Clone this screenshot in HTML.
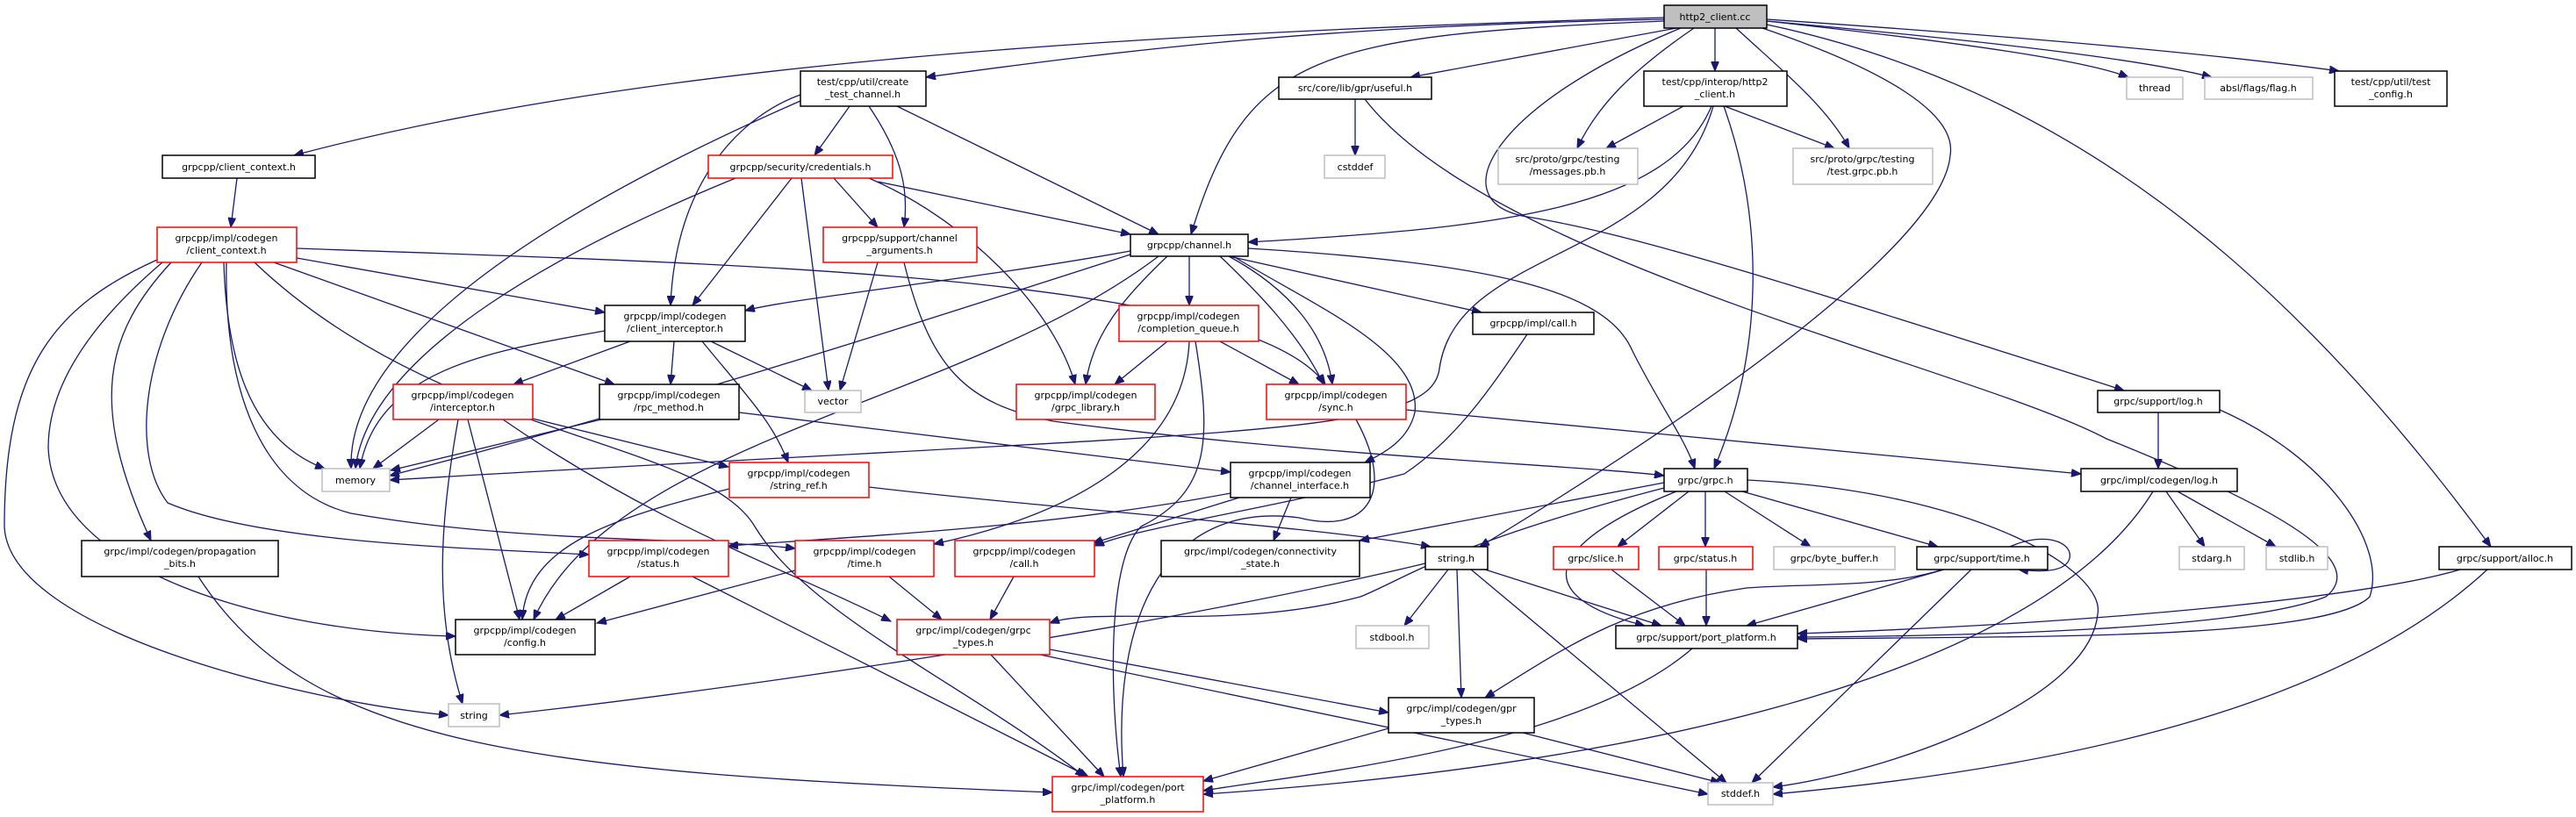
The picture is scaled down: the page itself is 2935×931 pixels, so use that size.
<!DOCTYPE html>
<html><head><meta charset="utf-8"><style>
html,body{margin:0;padding:0;background:#fff;}
svg{display:block;}
text{font-family:"DejaVu Sans","Liberation Sans",sans-serif;font-size:11px;fill:#000;text-anchor:middle;}
.e{fill:none;stroke:#191970;stroke-width:1.3;marker-end:url(#a);}
.b{fill:#fff;stroke:#000;stroke-width:1.5;}
.r{fill:#fff;stroke:#ff0000;stroke-width:1.5;}
.g{fill:#fff;stroke:#bfbfbf;stroke-width:1.5;}
</style></head><body>
<svg width="2935" height="931" viewBox="0 0 2935 931" xmlns="http://www.w3.org/2000/svg">
<defs><marker id="a" markerUnits="userSpaceOnUse" markerWidth="12" markerHeight="9" refX="11" refY="4.5" orient="auto"><path d="M0,0 L11,4.5 L0,9 z" fill="#191970" stroke="#191970"/></marker></defs>
<g>
<!-- edges from http2_client.cc -->
<path class="e" d="M1896,22 C1500,30 1300,55 1055,88"/>
<path class="e" d="M1896,20 C1200,40 700,80 335,177"/>
<path class="e" d="M1896,24 C1500,40 1420,60 1357,267"/>
<path class="e" d="M1910,32 L1607,88"/>
<path class="e" d="M1954,32 L1954,81"/>
<path class="e" d="M1930,32 C1860,80 1820,120 1797,169"/>
<path class="e" d="M1978,32 C2030,80 2080,120 2107,169"/>
<path class="e" d="M2005,31 C2150,80 2230,130 2222,177 C2215,260 2020,420 1686,623"/>
<path class="e" d="M2013,28 C2350,100 2600,300 2838,623"/>
<path class="e" d="M1915,32 C1700,120 1640,230 1740,247 C1850,265 2000,310 2420,445"/>
<path class="e" d="M2013,24 C2250,50 2380,70 2425,88"/>
<path class="e" d="M2013,24 C2300,50 2450,70 2520,88"/>
<path class="e" d="M2013,22 C2350,45 2550,65 2665,81"/>
<!-- h2h -->
<path class="e" d="M1964,121 C2010,250 2010,400 1953,534"/>
<path class="e" d="M1950,121 C1900,240 1700,260 1422,276"/>
<path class="e" d="M1952,121 C1900,300 1660,280 1640,420 C1630,500 1400,490 444,547"/>
<path class="e" d="M1918,121 L1830,169"/>
<path class="e" d="M1965,121 L2090,169"/>
<!-- ctc -->
<path class="e" d="M912,108 C850,130 770,200 764,348"/>
<path class="e" d="M912,115 C650,230 395,380 400,534"/>
<path class="e" d="M968,121 L928,177"/>
<path class="e" d="M990,121 C1030,180 1035,220 1030,259"/>
<path class="e" d="M1022,121 L1320,267"/>
<!-- cred -->
<path class="e" d="M838,203 C650,280 420,400 405,534"/>
<path class="e" d="M902,203 L789,348"/>
<path class="e" d="M913,203 L944,445"/>
<path class="e" d="M950,203 L1000,259"/>
<path class="e" d="M1000,207 L1288,267"/>
<path class="e" d="M990,203 C1100,250 1200,350 1225,438"/>
<path class="e" d="M1000,299 L957,445"/>
<path class="e" d="M1030,299 C1060,420 1100,460 1200,480 C1500,520 1800,530 1896,542"/>
<!-- cc_h -->
<path class="e" d="M270,203 L263,259"/>
<!-- icc -->
<path class="e" d="M338,294 L689,356"/>
<path class="e" d="M338,283 C800,300 1420,310 1510,438"/>
<path class="e" d="M312,299 L700,438"/>
<path class="e" d="M255,299 C258,400 280,500 370,534"/>
<path class="e" d="M290,299 C500,500 800,500 860,600 C920,700 1100,780 1236,885"/>
<path class="e" d="M230,299 C160,400 150,520 191,573 C300,620 550,625 671,632"/>
<path class="e" d="M258,299 C255,450 300,560 400,585 C600,620 800,612 906,625"/>
<path class="e" d="M195,299 C120,380 100,460 172,616"/>
<path class="e" d="M185,299 C90,380 55,450 55,510 C60,650 300,720 519,725"/>
<path class="e" d="M179,296 C60,350 5,420 5,600 C10,720 350,800 511,815"/>
<!-- ci -->
<path class="e" d="M718,389 L585,438"/>
<path class="e" d="M768,389 L764,438"/>
<path class="e" d="M810,389 L925,445"/>
<path class="e" d="M800,389 C850,450 880,480 898,527"/>
<path class="e" d="M689,377 C560,400 430,420 410,534"/>
<!-- intc -->
<path class="e" d="M500,478 L425,534"/>
<path class="e" d="M522,478 C500,600 495,700 527,802"/>
<path class="e" d="M533,478 L592,706"/>
<path class="e" d="M573,478 C750,600 900,650 1015,708"/>
<path class="e" d="M607,477 L830,532"/>
<!-- rpcm -->
<path class="e" d="M685,478 L445,536"/>
<path class="e" d="M842,470 L1402,538"/>
<!-- chan -->
<path class="e" d="M1288,286 C1100,320 900,340 849,354"/>
<path class="e" d="M1355,292 L1355,348"/>
<path class="e" d="M1400,292 L1688,356"/>
<path class="e" d="M1330,292 C1280,340 1245,380 1237,438"/>
<path class="e" d="M1400,292 C1470,330 1510,380 1518,438"/>
<path class="e" d="M1390,292 C1430,330 1480,380 1508,438"/>
<path class="e" d="M1405,292 C1500,350 1620,400 1612,470 C1605,500 1580,515 1555,527"/>
<path class="e" d="M1288,290 C1100,350 800,450 444,542"/>
<path class="e" d="M1422,283 C1700,300 1830,330 1860,400 C1890,460 1920,500 1931,534"/>
<path class="e" d="M1320,292 C1100,460 700,500 608,706"/>
<!-- cq -->
<path class="e" d="M1330,389 L1270,438"/>
<path class="e" d="M1390,389 L1480,438"/>
<path class="e" d="M1355,389 C1350,500 1250,580 1064,620"/>
<path class="e" d="M1362,389 C1380,500 1380,560 1300,600 C1260,640 1265,800 1277,885"/>
<!-- icall -->
<path class="e" d="M1740,381 C1700,440 1660,500 1600,540 C1450,580 1300,600 1247,622"/>
<!-- sync -->
<path class="e" d="M1545,478 C1590,560 1560,610 1480,590 C1330,570 1265,700 1280,885"/>
<path class="e" d="M1602,467 L2371,540"/>
<!-- useful -->
<path class="e" d="M1544,113 L1544,177"/>
<path class="e" d="M1555,113 C1700,300 2250,420 2400,500 C2600,580 2700,640 2650,680 C2550,720 2200,725 2048,726"/>
<!-- slog / alloc / clog -->
<path class="e" d="M2459,470 L2459,534"/>
<path class="e" d="M2529,467 C2650,520 2720,620 2700,680 C2650,730 2300,725 2048,728"/>
<path class="e" d="M2803,649 C2700,680 2400,710 2048,722"/>
<path class="e" d="M2834,649 C2650,820 2300,880 2020,905"/>
<path class="e" d="M2468,560 L2512,623"/>
<path class="e" d="M2481,560 L2593,623"/>
<path class="e" d="M2453,560 C2330,760 1900,870 1371,905"/>
<!-- sref, stat, time -->
<path class="e" d="M831,557 C700,590 600,620 595,706"/>
<path class="e" d="M990,555 C1200,580 1500,600 1630,623"/>
<path class="e" d="M718,657 L633,706"/>
<path class="e" d="M789,657 L1240,885"/>
<path class="e" d="M906,650 L680,710"/>
<path class="e" d="M1013,657 L1073,706"/>
<!-- chi -->
<path class="e" d="M1402,562 C1200,600 1000,610 830,622"/>
<path class="e" d="M1412,567 L1245,619"/>
<path class="e" d="M1471,567 L1451,616"/>
<!-- grpc -->
<path class="e" d="M1896,550 L1549,616"/>
<path class="e" d="M1924,560 L1843,623"/>
<path class="e" d="M1943,560 L1943,623"/>
<path class="e" d="M1965,560 L2063,623"/>
<path class="e" d="M1985,560 L2208,623"/>
<path class="e" d="M1910,560 C1760,620 1740,680 1874,713"/>
<path class="e" d="M1896,556 C1650,620 1600,660 1550,680 C1400,720 1250,690 1196,710"/>
<path class="e" d="M1991,547 C2250,560 2400,650 2390,700 C2380,800 2150,880 2020,897"/>
<!-- strh -->
<path class="e" d="M1624,642 C1300,720 800,790 569,815"/>
<path class="e" d="M1650,649 L1600,713"/>
<path class="e" d="M1660,649 L1665,795"/>
<path class="e" d="M1692,649 L1893,713"/>
<path class="e" d="M1676,649 L1967,892"/>
<path class="e" d="M1836,649 L1920,713"/>
<path class="e" d="M1944,649 L1944,713"/>
<!-- stime -->
<path class="e" d="M2290,623 C2330,605 2362,618 2358,636 C2354,652 2325,652 2300,649"/>
<path class="e" d="M2215,649 L1990,713"/>
<path class="e" d="M2213,649 C2150,670 2050,665 1990,670 C1850,690 1780,740 1692,795"/>
<path class="e" d="M2246,649 L1996,892"/>
<!-- lower -->
<path class="e" d="M1196,740 L1582,812"/>
<path class="e" d="M1129,746 L1258,885"/>
<path class="e" d="M1185,746 L1946,905"/>
<path class="e" d="M1155,657 L1128,706"/>
<path class="e" d="M1928,739 C1800,850 1500,880 1371,901"/>
<path class="e" d="M1582,830 L1371,890"/>
<path class="e" d="M1735,835 L1960,892"/>
<path class="e" d="M226,657 C350,850 600,880 1199,903"/>
</g>
<g>
<rect x="1896" y="6" width="117" height="26" fill="#bfbfbf" stroke="#000" stroke-width="1.5"/><text x="1954" y="23">http2_client.cc</text>
<rect class="b" x="912" y="81" width="143" height="40"/><text x="983" y="97">test/cpp/util/create</text><text x="983" y="111">_test_channel.h</text>
<rect class="b" x="185" y="177" width="174" height="26"/><text x="272" y="194">grpcpp/client_context.h</text>
<rect class="r" x="807" y="177" width="210" height="26"/><text x="912" y="194">grpcpp/security/credentials.h</text>
<rect class="r" x="179" y="259" width="159" height="40"/><text x="258" y="275">grpcpp/impl/codegen</text><text x="258" y="289">/client_context.h</text>
<rect class="r" x="938" y="259" width="175" height="40"/><text x="1025" y="275">grpcpp/support/channel</text><text x="1025" y="289">_arguments.h</text>
<rect class="b" x="689" y="348" width="160" height="41"/><text x="769" y="364">grpcpp/impl/codegen</text><text x="769" y="378">/client_interceptor.h</text>
<rect class="r" x="448" y="438" width="159" height="40"/><text x="527" y="454">grpcpp/impl/codegen</text><text x="527" y="468">/interceptor.h</text>
<rect class="b" x="683" y="438" width="159" height="40"/><text x="762" y="454">grpcpp/impl/codegen</text><text x="762" y="468">/rpc_method.h</text>
<rect class="g" x="917" y="445" width="64" height="25"/><text x="949" y="461">vector</text>
<rect class="b" x="1457" y="88" width="174" height="25"/><text x="1544" y="104">src/core/lib/gpr/useful.h</text>
<rect class="g" x="1509" y="177" width="69" height="26"/><text x="1544" y="194">cstddef</text>
<rect class="b" x="1873" y="81" width="163" height="40"/><text x="1954" y="97">test/cpp/interop/http2</text><text x="1954" y="111">_client.h</text>
<rect class="g" x="1707" y="169" width="159" height="41"/><text x="1786" y="185">src/proto/grpc/testing</text><text x="1786" y="199">/messages.pb.h</text>
<rect class="b" x="1288" y="267" width="134" height="25"/><text x="1355" y="283">grpcpp/channel.h</text>
<rect class="r" x="1275" y="348" width="159" height="41"/><text x="1354" y="364">grpcpp/impl/codegen</text><text x="1354" y="378">/completion_queue.h</text>
<rect class="b" x="1678" y="356" width="138" height="25"/><text x="1747" y="372">grpcpp/impl/call.h</text>
<rect class="r" x="1158" y="438" width="158" height="40"/><text x="1237" y="454">grpcpp/impl/codegen</text><text x="1237" y="468">/grpc_library.h</text>
<rect class="r" x="1443" y="438" width="159" height="40"/><text x="1522" y="454">grpcpp/impl/codegen</text><text x="1522" y="468">/sync.h</text>
<rect class="g" x="2043" y="169" width="159" height="41"/><text x="2122" y="185">src/proto/grpc/testing</text><text x="2122" y="199">/test.grpc.pb.h</text>
<rect class="g" x="2423" y="88" width="64" height="25"/><text x="2455" y="104">thread</text>
<rect class="g" x="2512" y="88" width="123" height="25"/><text x="2573" y="104">absl/flags/flag.h</text>
<rect class="b" x="2660" y="81" width="128" height="40"/><text x="2724" y="97">test/cpp/util/test</text><text x="2724" y="111">_config.h</text>
<rect class="b" x="2390" y="445" width="139" height="25"/><text x="2459" y="461">grpc/support/log.h</text>
<rect class="g" x="367" y="534" width="77" height="26"/><text x="405" y="551">memory</text>
<rect class="r" x="831" y="527" width="159" height="40"/><text x="910" y="543">grpcpp/impl/codegen</text><text x="910" y="557">/string_ref.h</text>
<rect class="b" x="93" y="616" width="224" height="41"/><text x="205" y="632">grpc/impl/codegen/propagation</text><text x="205" y="646">_bits.h</text>
<rect class="r" x="671" y="616" width="159" height="41"/><text x="750" y="632">grpcpp/impl/codegen</text><text x="750" y="646">/status.h</text>
<rect class="r" x="906" y="616" width="158" height="41"/><text x="985" y="632">grpcpp/impl/codegen</text><text x="985" y="646">/time.h</text>
<rect class="b" x="519" y="706" width="159" height="40"/><text x="598" y="722">grpcpp/impl/codegen</text><text x="598" y="736">/config.h</text>
<rect class="g" x="511" y="802" width="58" height="26"/><text x="540" y="819">string</text>
<rect class="b" x="1402" y="527" width="159" height="40"/><text x="1481" y="543">grpcpp/impl/codegen</text><text x="1481" y="557">/channel_interface.h</text>
<rect class="b" x="1896" y="534" width="95" height="26"/><text x="1943" y="551">grpc/grpc.h</text>
<rect class="r" x="1088" y="616" width="159" height="41"/><text x="1167" y="632">grpcpp/impl/codegen</text><text x="1167" y="646">/call.h</text>
<rect class="b" x="1323" y="616" width="226" height="41"/><text x="1436" y="632">grpc/impl/codegen/connectivity</text><text x="1436" y="646">_state.h</text>
<rect class="b" x="1624" y="623" width="71" height="26"/><text x="1659" y="640">string.h</text>
<rect class="r" x="1770" y="623" width="97" height="26"/><text x="1818" y="640">grpc/slice.h</text>
<rect class="r" x="1890" y="623" width="107" height="26"/><text x="1943" y="640">grpc/status.h</text>
<rect class="g" x="2021" y="623" width="138" height="26"/><text x="2090" y="640">grpc/byte_buffer.h</text>
<rect class="b" x="2184" y="623" width="149" height="26"/><text x="2258" y="640">grpc/support/time.h</text>
<rect class="b" x="2371" y="534" width="178" height="26"/><text x="2460" y="551">grpc/impl/codegen/log.h</text>
<rect class="g" x="2483" y="623" width="74" height="26"/><text x="2520" y="640">stdarg.h</text>
<rect class="g" x="2582" y="623" width="70" height="26"/><text x="2617" y="640">stdlib.h</text>
<rect class="b" x="2779" y="623" width="151" height="26"/><text x="2854" y="640">grpc/support/alloc.h</text>
<rect class="r" x="1022" y="706" width="174" height="40"/><text x="1109" y="722">grpc/impl/codegen/grpc</text><text x="1109" y="736">_types.h</text>
<rect class="g" x="1545" y="713" width="83" height="26"/><text x="1586" y="730">stdbool.h</text>
<rect class="b" x="1841" y="713" width="207" height="26"/><text x="1944" y="730">grpc/support/port_platform.h</text>
<rect class="b" x="1582" y="795" width="166" height="40"/><text x="1665" y="811">grpc/impl/codegen/gpr</text><text x="1665" y="825">_types.h</text>
<rect class="r" x="1199" y="885" width="172" height="40"/><text x="1285" y="901">grpc/impl/codegen/port</text><text x="1285" y="915">_platform.h</text>
<rect class="g" x="1946" y="892" width="74" height="25"/><text x="1983" y="908">stddef.h</text>
</g>
</svg>
</body></html>
